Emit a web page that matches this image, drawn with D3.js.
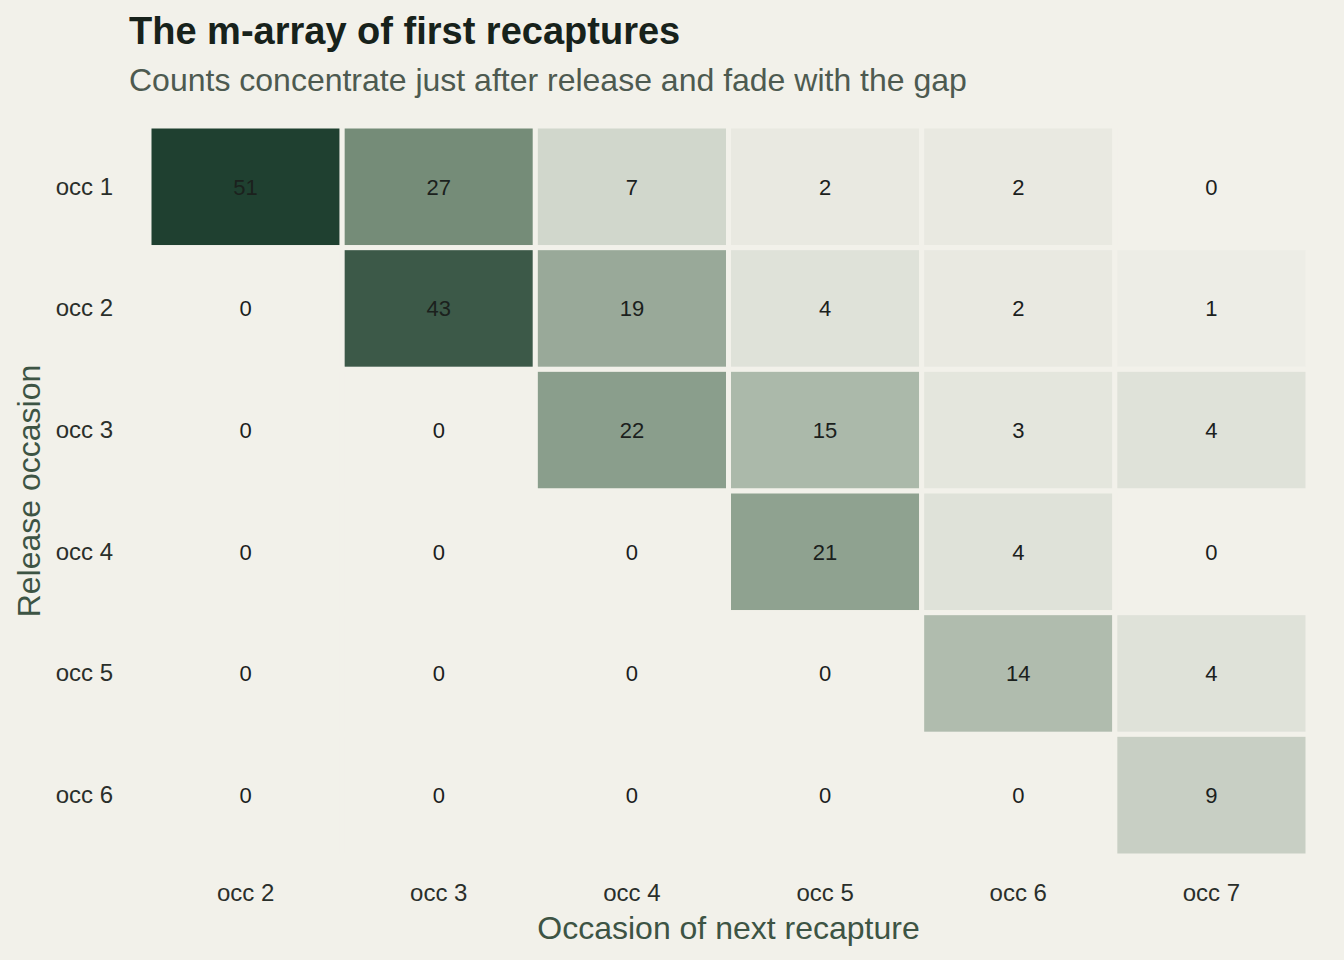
<!DOCTYPE html>
<html>
<head>
<meta charset="utf-8">
<script src="https://cdn.jsdelivr.net/npm/d3@7"></script>
<style>
  body { margin: 0; background: #f2f1ea; }
  text { font-family: "Liberation Sans", Arial, Helvetica, sans-serif; }
</style>
</head>
<body>
<div id="chart"></div>
<script>
// release occasions (rows) and recapture occasions (columns)
const releases = ['occ 1', 'occ 2', 'occ 3', 'occ 4', 'occ 5', 'occ 6']
const recaptures = ['occ 2', 'occ 3', 'occ 4', 'occ 5', 'occ 6', 'occ 7']

// m-array counts, one row per release occasion
const row1 = [51, 27, 7, 2, 2, 0]
const row2 = [0, 43, 19, 4, 2, 1]
const row3 = [0, 0, 22, 15, 3, 4]
const row4 = [0, 0, 0, 21, 4, 0]
const row5 = [0, 0, 0, 0, 14, 4]
const row6 = [0, 0, 0, 0, 0, 9]
const counts = [row1, row2, row3, row4, row5, row6]

const W = 1344, H = 960
const margin = {top: 126, right: 36, bottom: 104, left: 149}
const width = W - margin.left - margin.right
const height = H - margin.top - margin.bottom
const bg = '#f2f1ea'

let cells = []
counts.forEach((row, i) => {
    row.forEach((v, j) => {
        cells.push({release: releases[i], recapture: recaptures[j], value: v})
    })
})

const svg = d3.select('#chart').append('svg')
    .attr('width', W)
    .attr('height', H)

svg.append('rect')
    .attr('width', W)
    .attr('height', H)
    .attr('fill', bg)

const g = svg.append('g')
    .attr('transform', `translate(${margin.left},${margin.top})`)

const x = d3.scaleBand()
    .domain(recaptures)
    .range([0, width])

const y = d3.scaleBand()
    .domain(releases)
    .range([0, height])

// three-stop green ramp, background colour at zero
const maxVal = d3.max(cells, d => d.value)
const color = d3.scaleLinear()
    .domain([0, maxVal / 2, maxVal])
    .range([bg, '#7a917d', '#1f4030'])

// tiles
g.selectAll('rect.cell')
    .data(cells)
    .enter().append('rect')
    .attr('class', 'cell')
    .attr('x', d => x(d.recapture))
    .attr('y', d => y(d.release))
    .attr('width', x.bandwidth())
    .attr('height', y.bandwidth())
    .attr('fill', d => color(d.value))
    .attr('stroke', bg)
    .attr('stroke-width', 5)

// count labels
g.selectAll('text.count')
    .data(cells)
    .enter().append('text')
    .attr('class', 'count')
    .attr('x', d => x(d.recapture) + x.bandwidth() / 2)
    .attr('y', d => y(d.release) + y.bandwidth() / 2)
    .attr('dy', '0.35em')
    .attr('text-anchor', 'middle')
    .attr('font-size', 22)
    .attr('fill', '#1b211d')
    .text(d => d.value)

// axes
const xAxis = g.append('g')
    .attr('transform', `translate(0,${height})`)
    .call(d3.axisBottom(x).tickSize(0).tickPadding(28))
const yAxis = g.append('g')
    .call(d3.axisLeft(y).tickSize(0).tickPadding(36))

;[xAxis, yAxis].forEach(a => {
    a.select('.domain').remove()
    a.selectAll('text')
        .attr('font-size', 24)
        .attr('fill', '#2a2f2b')
        .style('font-family', '"Liberation Sans", Arial, sans-serif')
})

// axis titles
svg.append('text')
    .attr('x', margin.left + width / 2)
    .attr('y', 939)
    .attr('text-anchor', 'middle')
    .attr('font-size', 32)
    .attr('fill', '#3d5444')
    .text('Occasion of next recapture')

svg.append('text')
    .attr('transform', `translate(40,${margin.top + height / 2}) rotate(-90)`)
    .attr('text-anchor', 'middle')
    .attr('font-size', 32)
    .attr('fill', '#3d5444')
    .text('Release occasion')

// title + subtitle
svg.append('text')
    .attr('x', 129)
    .attr('y', 44)
    .attr('font-size', 38)
    .attr('font-weight', 'bold')
    .attr('fill', '#17221b')
    .text('The m-array of first recaptures')

svg.append('text')
    .attr('x', 129)
    .attr('y', 91)
    .attr('font-size', 32)
    .attr('fill', '#4d5a50')
    .text('Counts concentrate just after release and fade with the gap')
</script>
</body>
</html>
